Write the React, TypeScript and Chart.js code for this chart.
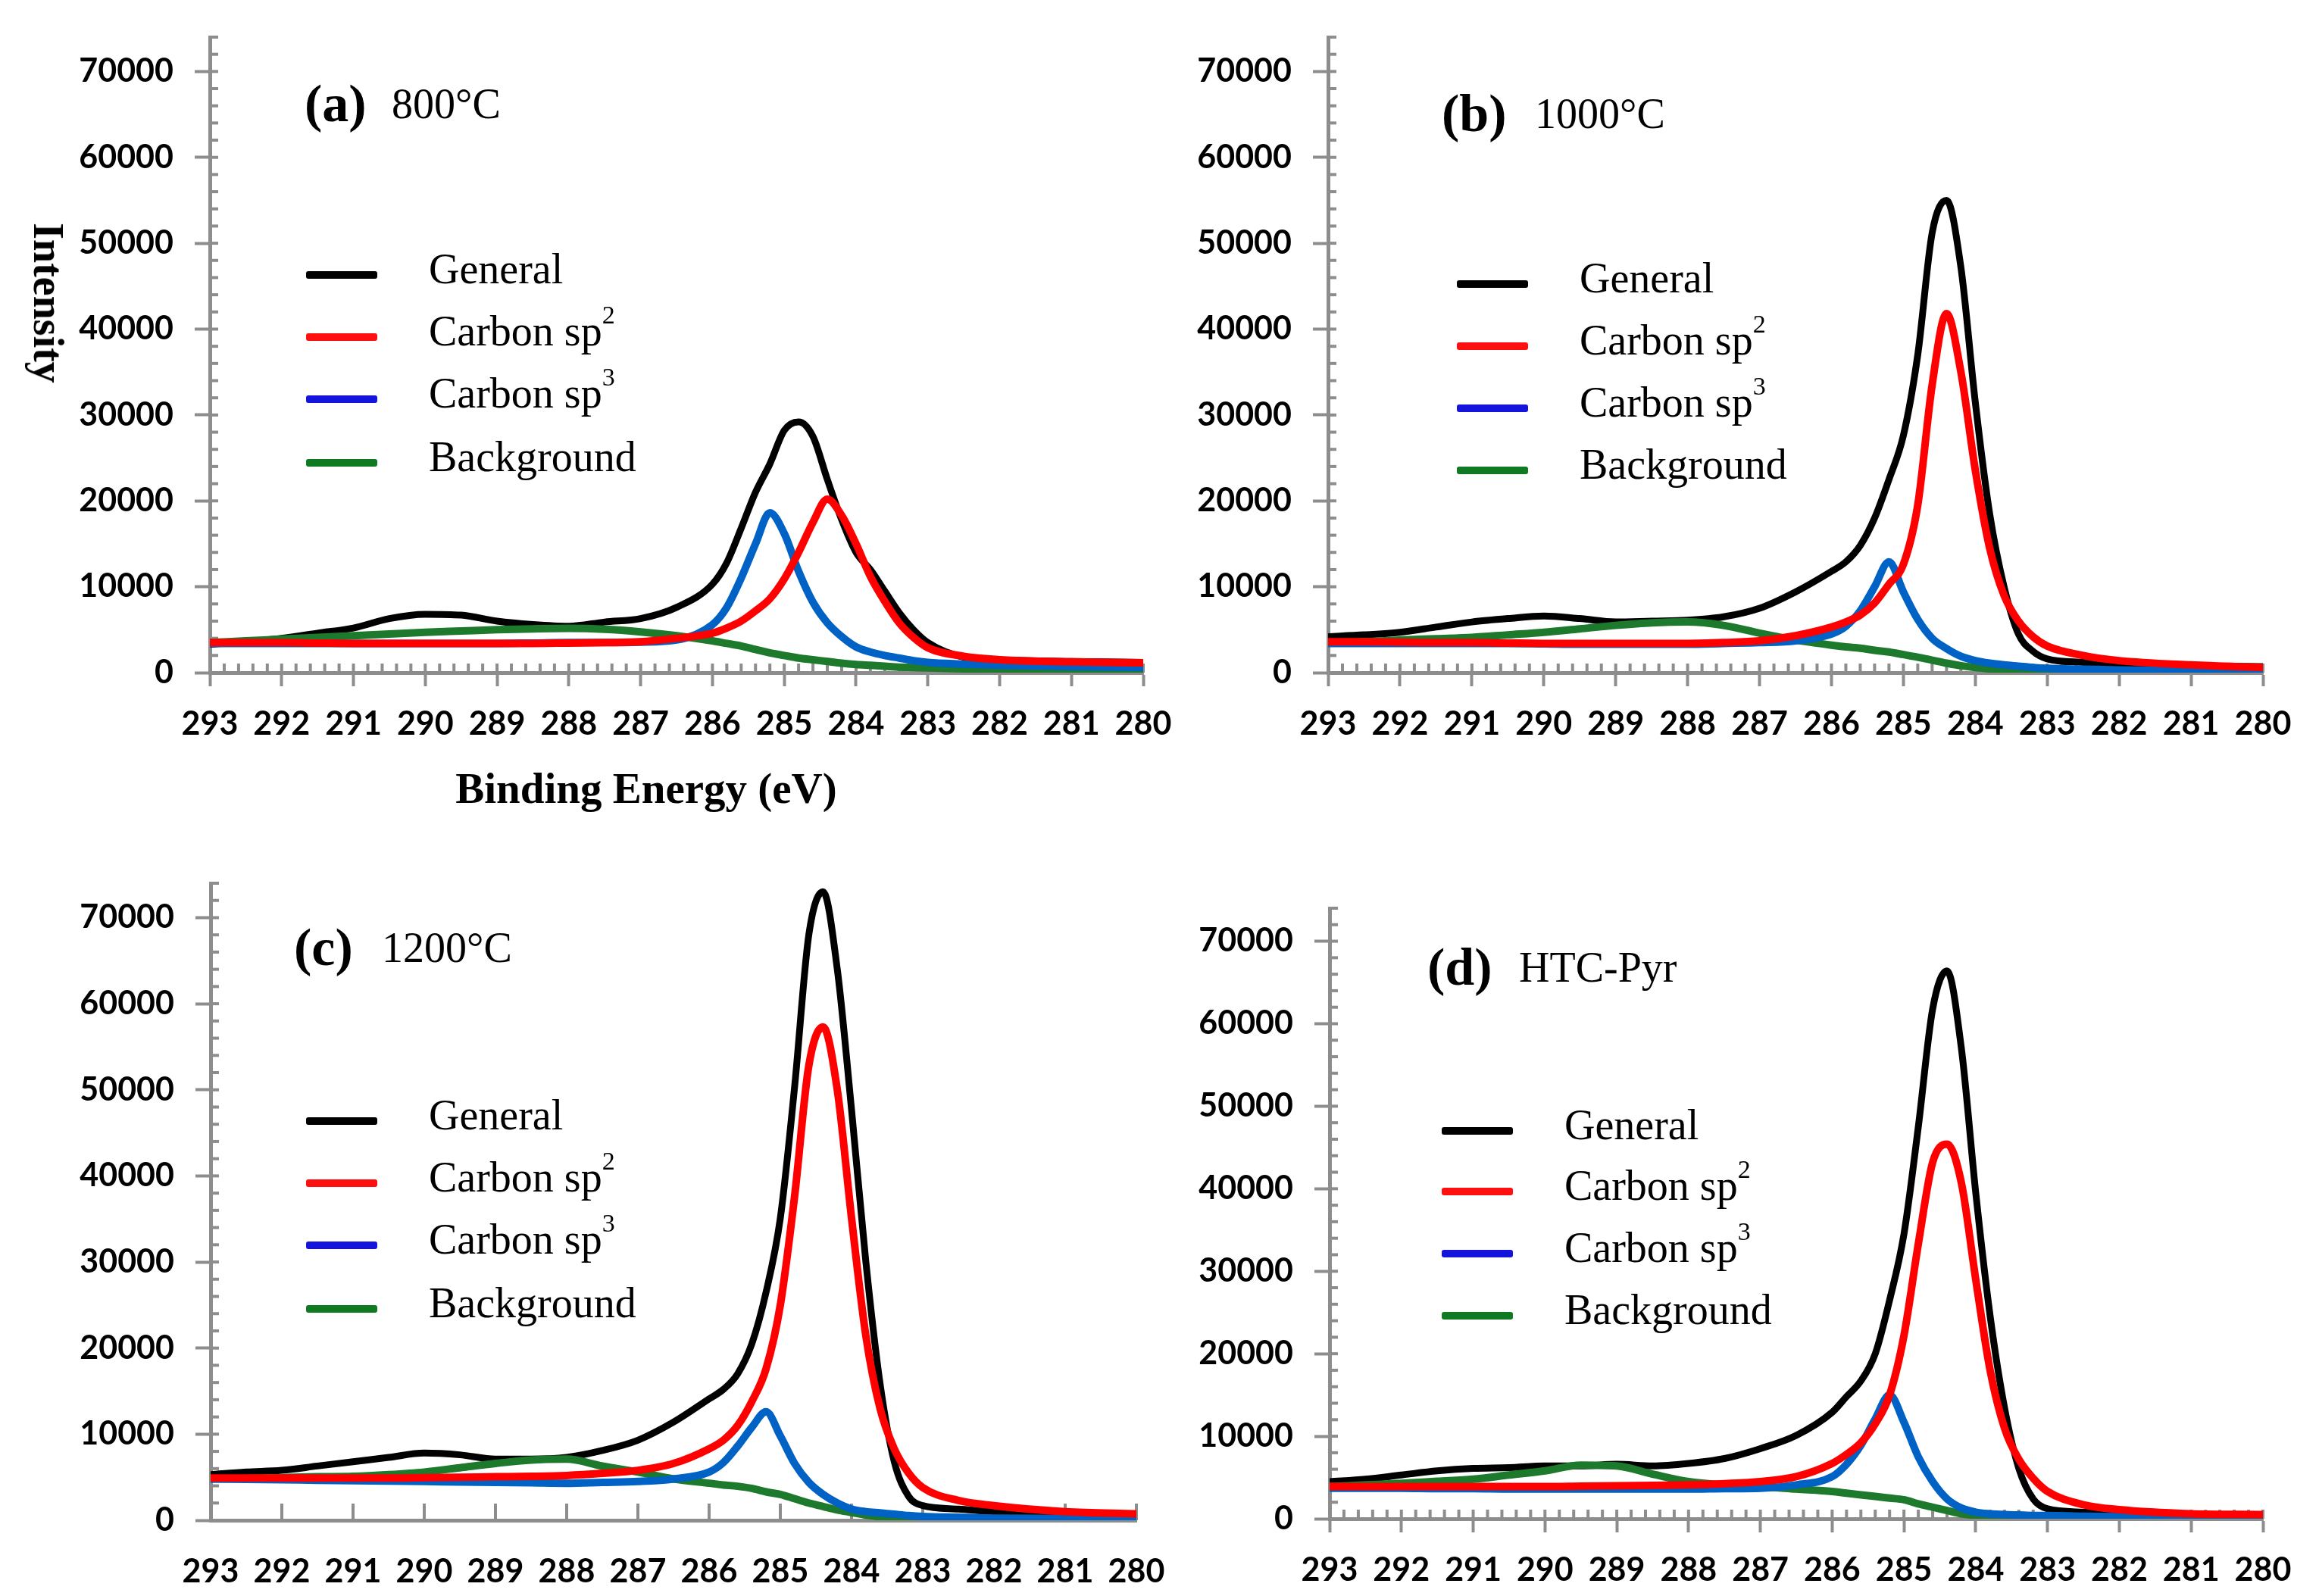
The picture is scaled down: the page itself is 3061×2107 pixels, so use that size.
import React, { useEffect, useRef } from "react";
import { Chart, registerables } from "chart.js";
Chart.register(...registerables);

// ---------- data (binding energy in eV, intensity in counts) ----------
const energy = [293, 292.5, 292, 291.5, 291, 290.5, 290, 289.5, 289, 288.5, 288, 287.5, 287, 286.5, 286, 285.8, 285.6, 285.4, 285.2, 285.0, 284.8, 284.6, 284.4, 284.2, 284.0, 283.8, 283.6, 283.4, 283.2, 283.0, 282.5, 282, 281, 280];

const aGeneral = [3300, 3600, 4000, 4600, 5200, 6300, 6800, 6700, 6000, 5600, 5400, 5900, 6300, 7600, 10300, 12800, 16800, 21000, 24300, 28200, 29200, 27500, 22500, 17800, 14000, 12000, 9500, 7000, 5000, 3500, 1800, 1500, 1300, 1200];
const aSp2 = [3500, 3500, 3500, 3450, 3400, 3400, 3400, 3400, 3400, 3400, 3450, 3500, 3600, 4000, 4600, 5200, 6000, 7200, 8600, 10900, 14000, 17500, 20200, 18300, 15000, 11200, 8300, 5800, 4100, 2900, 1900, 1500, 1250, 1150];
const aSp3 = [3400, 3400, 3400, 3400, 3400, 3400, 3400, 3400, 3400, 3450, 3500, 3500, 3550, 3800, 5600, 7600, 11000, 15000, 18600, 16200, 11800, 8200, 5800, 4200, 3000, 2400, 2000, 1700, 1400, 1200, 1000, 850, 700, 600];
const aBg = [3500, 3700, 3900, 4100, 4300, 4500, 4700, 4850, 5000, 5100, 5150, 5050, 4750, 4300, 3700, 3400, 3100, 2700, 2300, 2000, 1700, 1500, 1300, 1100, 950, 850, 750, 650, 600, 550, 450, 400, 350, 300];

const bGeneral = [4200, 4400, 4700, 5300, 5900, 6300, 6600, 6300, 5900, 6000, 6100, 6500, 7500, 9400, 11800, 12900, 14800, 18000, 22500, 27600, 37000, 51200, 55000, 47200, 31500, 18500, 10000, 4500, 2500, 1600, 1200, 1000, 800, 700];
const bSp2 = [3600, 3600, 3550, 3500, 3500, 3450, 3400, 3400, 3400, 3400, 3400, 3500, 3700, 4300, 5300, 5900, 6700, 8100, 10300, 12600, 19500, 33500, 41800, 35000, 23600, 14500, 9000, 6000, 4200, 3100, 2000, 1400, 900, 600];
const bSp3 = [3400, 3400, 3400, 3400, 3400, 3400, 3350, 3300, 3300, 3300, 3300, 3400, 3500, 3700, 4500, 5400, 7200, 10000, 12900, 9400, 6200, 4000, 2800, 1900, 1400, 1100, 900, 750, 600, 500, 400, 300, 250, 200];
const bBg = [3500, 3600, 3800, 3950, 4100, 4400, 4700, 5100, 5500, 5800, 5900, 5500, 4600, 3800, 3200, 3000, 2850, 2600, 2400, 2100, 1800, 1450, 1100, 800, 600, 450, 380, 330, 300, 280, 250, 220, 200, 200];

const cGeneral = [5300, 5600, 5800, 6300, 6800, 7300, 7800, 7600, 7100, 7100, 7300, 8100, 9300, 11400, 14100, 15200, 17000, 20500, 26500, 35100, 50300, 68000, 73000, 64000, 47700, 30100, 15900, 6800, 2800, 1700, 1300, 1000, 800, 700];
const cSp2 = [4900, 4900, 4900, 4900, 4900, 4900, 4950, 5000, 5050, 5100, 5200, 5450, 5800, 6600, 8300, 9300, 11000, 13800, 17600, 25000, 37600, 52800, 57300, 50000, 35100, 21500, 13000, 8300, 5500, 3800, 2300, 1700, 1000, 750];
const cSp3 = [4800, 4750, 4700, 4650, 4600, 4550, 4500, 4450, 4400, 4350, 4300, 4400, 4500, 4800, 5600, 6700, 8600, 10800, 12600, 9800, 6600, 4400, 3000, 2000, 1300, 1000, 850, 700, 550, 450, 350, 250, 200, 150];
const cBg = [4800, 4850, 4950, 5050, 5100, 5300, 5600, 6100, 6600, 7000, 7100, 6300, 5600, 4800, 4300, 4100, 3950, 3700, 3300, 3000, 2500, 2000, 1600, 1200, 900, 600, 400, 300, 250, 200, 180, 160, 150, 150];

const dGeneral = [4500, 4800, 5300, 5800, 6100, 6200, 6400, 6400, 6600, 6400, 6700, 7300, 8500, 10100, 12900, 14800, 16700, 20000, 26500, 34500, 47500, 61800, 66400, 57000, 39500, 24600, 13500, 6100, 2400, 1200, 800, 600, 500, 500];
const dSp2 = [3900, 3900, 3900, 3900, 3900, 3900, 3900, 3950, 4000, 4050, 4100, 4250, 4500, 5100, 6700, 7800, 9200, 11500, 15000, 22200, 33300, 43200, 45400, 40700, 29000, 18000, 11000, 7200, 4900, 3300, 1700, 1100, 600, 500];
const dSp3 = [3700, 3700, 3700, 3650, 3650, 3600, 3600, 3600, 3600, 3600, 3600, 3650, 3700, 4100, 5100, 6600, 8900, 12100, 15000, 11700, 7500, 4500, 2400, 1300, 800, 600, 500, 450, 400, 400, 300, 250, 200, 200];
const dBg = [3900, 4100, 4300, 4550, 4800, 5300, 5800, 6500, 6400, 5400, 4500, 4100, 3900, 3600, 3300, 3100, 2900, 2700, 2500, 2300, 1800, 1400, 1000, 600, 400, 300, 250, 200, 200, 200, 200, 200, 200, 200];

const yTickValues = [0, 10000, 20000, 30000, 40000, 50000, 60000, 70000];
const seriesNames = ["General", "Carbon sp", "Carbon sp", "Background"];
const seriesSup = ["", "2", "3", ""];
const panelLetters = ["(a)", "(b)", "(c)", "(d)"];
const panelSamples = ["800°C", "1000°C", "1200°C", "HTC-Pyr"];
const xTitle = "Binding Energy (eV)";
const yTitle = "Intensity";

// ---------- style ----------
const AXIS = "#8d8d8d";
const LINE_COLORS = ["#000000", "#ff0000", "#0062c4", "#1d7a2c"];
const LEGEND_COLORS = ["#000000", "#ff1010", "#1414dc", "#0f7a22"];
const LINE_WIDTHS = [9, 10, 10, 10];
const DRAW_ORDER = [3, 0, 1, 2];
const SERIF = '"Liberation Serif", "Times New Roman", serif';
const TICK_FONT = 'Lato, "Open Sans", sans-serif';

const Y_AXIS_W = 260;
const PAD_T = 20;
const PAD_R = 60;

type Panel = {
  L: number; R: number; T: number; B: number; xAxisH: number;
  data: number[][]; xMinor: boolean; xMajorUp: boolean;
  title: { lx: number; sx: number; cy: number };
  legend: { x: number; tx: number; ys: number[] };
};

const panels: Panel[] = [
  { L: 277, R: 1509, T: 49, B: 888, xAxisH: 120, data: [aGeneral, aSp2, aSp3, aBg], xMinor: true, xMajorUp: false,
    title: { lx: 402, sx: 517, cy: 137 }, legend: { x: 404, tx: 566, ys: [363, 445, 527, 611] } },
  { L: 1753, R: 2987, T: 49, B: 888, xAxisH: 120, data: [bGeneral, bSp2, bSp3, bBg], xMinor: true, xMajorUp: false,
    title: { lx: 1903, sx: 2026, cy: 150 }, legend: { x: 1923, tx: 2085, ys: [375, 457, 539, 621] } },
  { L: 278, R: 1500, T: 1166, B: 2007, xAxisH: 98, data: [cGeneral, cSp2, cSp3, cBg], xMinor: false, xMajorUp: true,
    title: { lx: 388, sx: 504, cy: 1251 }, legend: { x: 404, tx: 566, ys: [1480, 1562, 1644, 1728] } },
  { L: 1755, R: 2987, T: 1199, B: 2005, xAxisH: 98, data: [dGeneral, dSp2, dSp3, dBg], xMinor: true, xMajorUp: false,
    title: { lx: 1884, sx: 2005, cy: 1277 }, legend: { x: 1903, tx: 2065, ys: [1493, 1573, 1655, 1737] } },
];

const tickPlugin = {
  id: "axisTicks",
  beforeDatasetsDraw(chart: any, _args: any, opts: any) {
    const { ctx, chartArea, scales } = chart;
    const x = scales.x, y = scales.y;
    ctx.save();
    ctx.strokeStyle = AXIS;
    ctx.lineWidth = 4;
    for (let i = 0; i * 2000 <= y.max; i++) {
      const py = y.getPixelForValue(i * 2000);
      ctx.beginPath();
      ctx.moveTo(chartArea.left, py);
      ctx.lineTo(chartArea.left + 11, py);
      ctx.stroke();
    }
    if (opts.xMinor) {
      for (let i = 0; i <= 65; i++) {
        const px = x.getPixelForValue(280 + i * 0.2);
        ctx.beginPath();
        ctx.moveTo(px, chartArea.bottom);
        ctx.lineTo(px, chartArea.bottom - 12);
        ctx.stroke();
      }
    }
    if (opts.xMajorUp) {
      for (let i = 0; i <= 13; i++) {
        const px = x.getPixelForValue(280 + i);
        ctx.beginPath();
        ctx.moveTo(px, chartArea.bottom);
        ctx.lineTo(px, chartArea.bottom - 22);
        ctx.stroke();
      }
    }
    ctx.restore();
  },
};

function PanelChart({ p }: { p: Panel }) {
  const ref = useRef<HTMLCanvasElement | null>(null);
  const w = p.R - p.L + Y_AXIS_W + PAD_R;
  const h = p.B - p.T + PAD_T + p.xAxisH;
  useEffect(() => {
    if (!ref.current) return;
    const datasets = p.data.map((vals, k) => ({
      label: seriesNames[k] + seriesSup[k],
      data: energy.map((e, i) => ({ x: e, y: vals[i] })),
      borderColor: LINE_COLORS[k],
      backgroundColor: LINE_COLORS[k],
      borderWidth: LINE_WIDTHS[k],
      pointRadius: 0,
      fill: false,
      cubicInterpolationMode: "monotone" as const,
      order: DRAW_ORDER[k],
    }));
    const chart = new Chart(ref.current, {
      type: "line",
      data: { datasets },
      plugins: [tickPlugin as any],
      options: {
        animation: false,
        responsive: false,
        devicePixelRatio: 1,
        layout: { padding: { left: 0, top: PAD_T, right: PAD_R, bottom: 0 } },
        plugins: {
          legend: { display: false },
          tooltip: { enabled: false },
          axisTicks: { xMinor: p.xMinor, xMajorUp: p.xMajorUp },
        } as any,
        scales: {
          x: {
            type: "linear",
            min: 280,
            max: 293,
            reverse: true,
            afterFit: (s: any) => { s.height = p.xAxisH; s.paddingLeft = 0; s.paddingRight = 0; },
            border: { color: AXIS, width: 5 },
            grid: {
              drawOnChartArea: false,
              drawTicks: !p.xMajorUp,
              color: AXIS,
              tickColor: AXIS,
              tickWidth: 4,
              tickLength: 18,
            },
            ticks: {
              stepSize: 1,
              autoSkip: false,
              maxRotation: 0,
              padding: p.xMajorUp ? 42 : 24,
              color: "#000",
              font: { family: TICK_FONT, size: 43, weight: "bold" },
              callback: (v: any) => String(v),
            },
          },
          y: {
            type: "linear",
            min: 0,
            max: 74000,
            afterFit: (s: any) => { s.width = Y_AXIS_W; s.paddingTop = 0; s.paddingBottom = 0; },
            afterBuildTicks: (s: any) => { s.ticks = yTickValues.map((v) => ({ value: v })); },
            border: { color: AXIS, width: 5 },
            grid: {
              drawOnChartArea: false,
              color: AXIS,
              tickColor: AXIS,
              tickWidth: 4,
              tickLength: 20,
            },
            ticks: {
              autoSkip: false,
              padding: 28,
              color: "#000",
              font: { family: TICK_FONT, size: 43, weight: "bold" },
              callback: (v: any) => String(v),
            },
          },
        },
      },
    });
    return () => chart.destroy();
  }, []);
  return (
    <canvas
      ref={ref}
      width={w}
      height={h}
      style={{ position: "absolute", left: p.L - Y_AXIS_W, top: p.T - PAD_T, width: w, height: h }}
    />
  );
}

function Overlay({ p, idx }: { p: Panel; idx: number }) {
  const txt: React.CSSProperties = { position: "absolute", lineHeight: 1, whiteSpace: "nowrap", color: "#000", fontFamily: SERIF, transform: "translateY(-50%)" };
  return (
    <>
      <div style={{ ...txt, left: p.title.lx, top: p.title.cy, fontSize: 70, fontWeight: "bold" }}>{panelLetters[idx]}</div>
      <div style={{ ...txt, left: p.title.sx, top: p.title.cy, fontSize: 56 }}>{panelSamples[idx]}</div>
      {seriesNames.map((name, k) => (
        <React.Fragment key={k}>
          <div style={{ position: "absolute", left: p.legend.x, top: p.legend.ys[k] - 5, width: 94, height: 10, background: LEGEND_COLORS[k], borderRadius: 3 }} />
          <div style={{ ...txt, left: p.legend.tx, top: p.legend.ys[k] - 8, fontSize: 56 }}>
            {name}
            {seriesSup[k] && <sup style={{ fontSize: 34, verticalAlign: "0.85em", lineHeight: 0 }}>{seriesSup[k]}</sup>}
          </div>
        </React.Fragment>
      ))}
    </>
  );
}

export default function App() {
  return (
    <div style={{ position: "fixed", left: 0, top: 0, width: 3061, height: 2107, overflow: "hidden", background: "#fff" }}>
      {panels.map((p, i) => <PanelChart key={"c" + i} p={p} />)}
      {panels.map((p, i) => <Overlay key={"o" + i} p={p} idx={i} />)}
      <div style={{ position: "absolute", left: 64, top: 400, transform: "translate(-50%, -50%) rotate(90deg)", fontFamily: SERIF, fontWeight: "bold", fontSize: 56, lineHeight: 1, whiteSpace: "nowrap" }}>{yTitle}</div>
      <div style={{ position: "absolute", left: 853, top: 1040, transform: "translate(-50%, -50%)", fontFamily: SERIF, fontWeight: "bold", fontSize: 57, lineHeight: 1, whiteSpace: "nowrap" }}>{xTitle}</div>
    </div>
  );
}
